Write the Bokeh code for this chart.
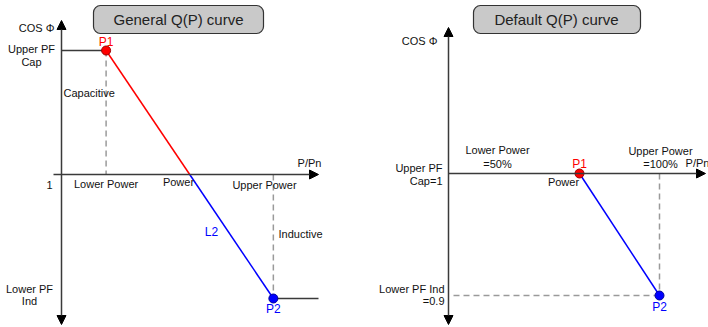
from bokeh.plotting import figure
from bokeh.layouts import row
from bokeh.models import Range1d, Arrow, NormalHead, Label, BoxAnnotation
from bokeh.embed import file_html
from bokeh.resources import INLINE

# ---------------- data ----------------
# General Q(P) curve: P1 = (lower power, upper PF cap), P2 = (upper power, lower PF ind)
general_p = [0.2, 0.95]          # P/Pn of P1, P2
general_cos = [1.1, 0.9]         # cos phi of P1 (capacitive), P2 (inductive)
general_cross_cos = 1.0          # where the curve crosses cos phi = 1
general_xlabels = ["Lower Power", "Power", "Upper Power"]

# Default Q(P) curve
default_p = [0.5, 1.0]           # Lower Power = 50 %, Upper Power = 100 %
default_cos = [1.0, 0.9]         # Upper PF Cap = 1, Lower PF Ind = 0.9

FONT = "Liberation Sans"
AXIS_C = "#3a3a3a"
DASH_C = "#9a9a9a"
H = 327
OFF = 0  # page offset of the figures


def make_fig(xmap, ymap, w):
    p = figure(width=w, height=H,
               x_range=Range1d(xmap(0), xmap(w)),
               y_range=Range1d(ymap(H), ymap(0)),
               output_backend="svg", toolbar_location=None, min_border=0)
    p.axis.visible = False
    p.grid.visible = False
    p.outline_line_color = None
    p.background_fill_color = "white"
    return p


def lab(p, x, y, t, align="center", color="#111111", size="11px", font=FONT):
    p.add_layout(Label(x=x, y=y, text=t, text_align=align, text_baseline="middle",
                       text_color=color, text_font_size=size, text_font=font))


def head():
    return NormalHead(size=9, fill_color="black", line_color="black", line_width=1)


def arrow(p, x0, y0, x1, y1, both=False):
    kw = dict(end=head(), x_start=x0, y_start=y0, x_end=x1, y_end=y1,
              line_color=AXIS_C, line_width=1.5)
    if both:
        kw["start"] = head()
    p.add_layout(Arrow(**kw))


def title_box(p, xl, xr, yt, yb, t, tx, ty):
    p.add_layout(BoxAnnotation(left=xl, right=xr, top=yt, bottom=yb,
                               fill_color="#c9c9c9", fill_alpha=1.0,
                               line_color="#333333", line_alpha=1.0, line_width=1.2,
                               border_radius=7))
    lab(p, tx, ty, t, size="15px", color="#222222")


# ---------------- left figure: General Q(P) curve ----------------
W1 = 354
LX = lambda px: (px + OFF - 61) / 223.0
LY = lambda py: 1 + (174 - (py + OFF)) / 1240.0
gx = lambda px: (px - 61) / 223.0        # page x -> data (layout only)
gy = lambda py: 1 + (174 - py) / 1240.0  # page y -> data (layout only)

p1 = make_fig(LX, LY, W1)

arrow(p1, gx(61), gy(324), gx(61), gy(20), both=True)
arrow(p1, gx(53), 1.0, gx(318), 1.0)

p_cross = general_p[0] + (general_cos[0] - general_cross_cos) / (general_cos[0] - general_cos[1]) * (general_p[1] - general_p[0])
p1.line([0, general_p[0]], [general_cos[0]] * 2, line_color=AXIS_C, line_width=1.5)
p1.line([general_p[1], gx(318)], [general_cos[1]] * 2, line_color=AXIS_C, line_width=1.5)
p1.line([general_p[0]] * 2, [general_cos[0], general_cross_cos], line_color=DASH_C, line_width=1.5, line_dash="6 4")
p1.line([general_p[1]] * 2, [general_cross_cos, general_cos[1]], line_color=DASH_C, line_width=1.5, line_dash="6 4")
p1.line([general_p[0], p_cross], [general_cos[0], general_cross_cos], line_color="#ff0000", line_width=1.5)
p1.line([p_cross, general_p[1]], [general_cross_cos, general_cos[1]], line_color="#0000ff", line_width=1.5)
p1.scatter([general_p[0]], [general_cos[0]], size=9, fill_color="#ff0000", line_color="#990000")
p1.scatter([general_p[1]], [general_cos[1]], size=9, fill_color="#0000ff", line_color="#000099")

title_box(p1, gx(93), gx(263), gy(5), gy(33), "General Q(P) curve", gx(178), gy(19))

lab(p1, gx(54), gy(27), "COS Φ", align="right")
lab(p1, gx(31), gy(48), "Upper PF")
lab(p1, gx(31), gy(61), "Cap")
lab(p1, gx(63), gy(92), "Capacitive", align="left")
lab(p1, general_p[0], gy(41), "P1", color="#ff0000", size="12px")
lab(p1, gx(309), gy(162), "P/Pn")
lab(p1, gx(49), gy(184), "1")
lab(p1, general_p[0], gy(183), general_xlabels[0])
lab(p1, gx(178), gy(181), general_xlabels[1])
lab(p1, gx(264), gy(184), general_xlabels[2])
lab(p1, gx(211), gy(231), "L2", color="#0000ff", size="12px")
lab(p1, gx(278), gy(233), "Inductive", align="left")
lab(p1, gx(29), gy(288), "Lower PF")
lab(p1, gx(29), gy(300), "Ind")
lab(p1, general_p[1], gy(308), "P2", color="#0000ff", size="12px")

# ---------------- right figure: Default Q(P) curve ----------------
W2 = 354
RX = lambda px: 0.5 + (px + OFF + W1 - 579) / 160.0
RY = lambda py: 1 + (173 - (py + OFF)) / 1220.0
dx = lambda px: 0.5 + (px - 579) / 160.0
dy = lambda py: 1 + (173 - py) / 1220.0

p2 = make_fig(RX, RY, W2)

arrow(p2, dx(448), dy(324), dx(448), dy(27), both=True)
arrow(p2, dx(448), default_cos[0], dx(705), default_cos[0])

p2.line([default_p[1]] * 2, [default_cos[0], default_cos[1]], line_color=DASH_C, line_width=1.5, line_dash="6 4")
p2.line([dx(453), default_p[1]], [default_cos[1]] * 2, line_color=DASH_C, line_width=1.5, line_dash="6 4")
p2.line(default_p, default_cos, line_color="#0000ff", line_width=1.5)
p2.scatter([default_p[0]], [default_cos[0]], size=9, fill_color="#ff0000", line_color="#990000")
p2.scatter([default_p[1]], [default_cos[1]], size=9, fill_color="#0000ff", line_color="#000099")

title_box(p2, dx(473), dx(640), dy(5), dy(33), "Default Q(P) curve", dx(556), dy(19))

lab(p2, dx(437), dy(40), "COS Φ", align="right")
lab(p2, dx(497), dy(149), "Lower Power")
lab(p2, dx(497), dy(163), "=50%")
lab(p2, dx(660), dy(150), "Upper Power")
lab(p2, dx(660), dy(163), "=100%")
lab(p2, dx(697), dy(162), "P/Pn")
lab(p2, default_p[0], dy(163), "P1", color="#ff0000", size="12px")
lab(p2, dx(442), dy(167), "Upper PF", align="right")
lab(p2, dx(442), dy(180), "Cap=1", align="right")
lab(p2, dx(563), dy(181), "Power")
lab(p2, dx(444), dy(288), "Lower PF Ind", align="right")
lab(p2, dx(444), dy(300), "=0.9", align="right")
lab(p2, default_p[1], dy(306), "P2", color="#0000ff", size="12px")

layout = row(p1, p2, spacing=0)
open("out.html", "w").write(file_html(layout, INLINE))
